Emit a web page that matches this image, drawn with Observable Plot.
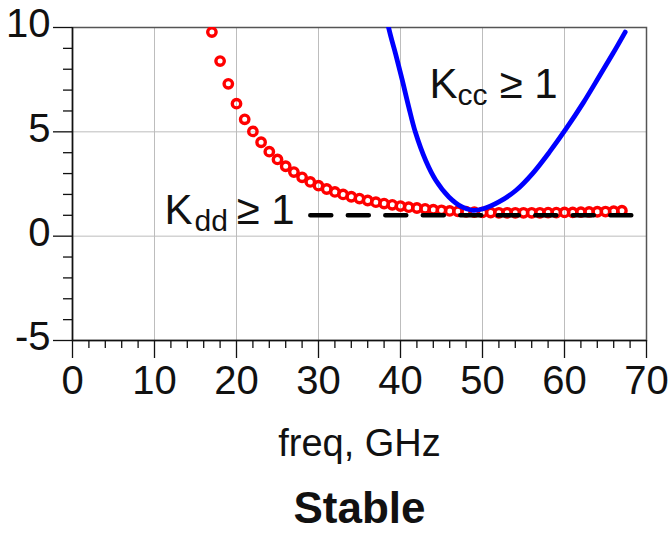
<!DOCTYPE html>
<html>
<head>
<meta charset="utf-8">
<script src="https://cdn.jsdelivr.net/npm/d3@7"></script>
<script src="https://cdn.jsdelivr.net/npm/@observablehq/plot@0.6"></script>
<style>
  html, body { margin: 0; padding: 0; background: #fff; }
  #chart svg { display: block; }
</style>
</head>
<body>
<div id="chart"></div>
<script>
// Kdd (red circles), frequency in GHz
const kddFreq = [17, 18, 19, 20, 21, 22, 23, 24, 25, 26, 27, 28, 29, 30, 31, 32, 33, 34, 35, 36,
  37, 38, 39, 40, 41, 42, 43, 44, 45, 46, 47, 48, 49, 50, 51, 52, 53, 54, 55, 56,
  57, 58, 59, 60, 61, 62, 63, 64, 65, 66, 67];
const kddValue = [9.78, 8.39, 7.30, 6.35, 5.60, 5.02, 4.50, 4.05, 3.68, 3.35, 3.07, 2.82, 2.60, 2.42, 2.26, 2.12, 2.00, 1.89, 1.80, 1.71,
  1.63, 1.56, 1.50, 1.44, 1.39, 1.35, 1.31, 1.27, 1.24, 1.21, 1.19, 1.17, 1.15, 1.14, 1.13, 1.12, 1.12, 1.12, 1.12, 1.12,
  1.12, 1.13, 1.13, 1.14, 1.14, 1.15, 1.16, 1.17, 1.18, 1.20, 1.22];

// Kcc (blue line)
const kccFreq = [38.3, 38.8, 39.4, 40.2, 41.0, 41.8, 43.1, 44.3, 45.9, 47.5, 48.8, 50.0, 52.0, 54.1, 56.1, 58.2, 60.2, 62.3, 64.3, 65.9, 67.4];
const kccValue = [10.4, 9.6, 8.74, 7.5, 6.2, 5.0, 3.6, 2.68, 1.88, 1.40, 1.24, 1.30, 1.64, 2.2, 3.0, 4.05, 5.15, 6.4, 7.7, 8.75, 9.78];

// K = 1 limit (black dashed)
const limitFreq = [29, 68.3];
const limitValue = [1, 1];

// Axes
const xTicks = [0, 10, 20, 30, 40, 50, 60, 70];
const xMinorTicks = [2, 4, 6, 8, 12, 14, 16, 18, 22, 24, 26, 28, 32, 34, 36, 38, 42, 44, 46, 48, 52, 54, 56, 58, 62, 64, 66, 68];
const yTicks = [-5, 0, 5, 10];
const yMinorTicks = [-4, -3, -2, -1, 1, 2, 3, 4, 6, 7, 8, 9];
const xLabel = "freq, GHz";
const caption = "Stable";

// Annotations (text parts, anchored in data coordinates)
const annoMainText = ["K", "≥ 1", "K", "≥ 1"];
const annoMainX = [11.22, 20.0, 43.54, 52.07];
const annoMainY = [0.56, 0.56, 6.61, 6.61];
const annoSubText = ["dd", "cc"];
const annoSubX = [14.88, 46.95];
const annoSubY = [0.226, 6.27];

const kdd = kddFreq.map((f, i) => ({f, v: kddValue[i]}));
const kcc = kccFreq.map((f, i) => ({f, v: kccValue[i]}));
const limit = limitFreq.map((f, i) => ({f, v: limitValue[i]}));
const annoMain = annoMainText.map((t, i) => ({t, x: annoMainX[i], y: annoMainY[i]}));
const annoSub = annoSubText.map((t, i) => ({t, x: annoSubX[i], y: annoSubY[i]}));

const font = "'Liberation Sans', Arial, Helvetica, sans-serif";
const ink = "#111";

const chart = Plot.plot({
  width: 671,
  height: 533,
  marginTop: 27,
  marginBottom: 193,
  marginLeft: 72,
  marginRight: 25,
  style: {fontFamily: font, background: "#fff", overflow: "visible"},
  x: {domain: [0, 70], axis: null},
  y: {domain: [-5, 10], axis: null},
  marks: [
    Plot.gridX({ticks: xTicks.slice(1, -1), stroke: "#bdbdbd", strokeOpacity: 1, strokeWidth: 1}),
    Plot.gridY({ticks: yTicks.slice(1, -1), stroke: "#bdbdbd", strokeOpacity: 1, strokeWidth: 1}),
    Plot.frame({stroke: "#555", strokeWidth: 1.5}),
    Plot.ruleX([0], {stroke: ink, strokeWidth: 1.5}),
    Plot.ruleY([-5], {stroke: ink, strokeWidth: 1.5}),
    // y ticks
    Plot.axisY({ticks: yTicks, tickSize: 19, fill: "none", stroke: ink, strokeWidth: 1.3}),
    Plot.axisY({ticks: yMinorTicks, tickSize: 9, fill: "none", stroke: ink, strokeWidth: 1.3}),
    Plot.axisY({ticks: yTicks, tickSize: 19, tickPadding: 3, stroke: "none", fill: ink, fontSize: 40, dy: -3, tickFormat: d => String(d)}),
    // x ticks
    Plot.axisX({ticks: xTicks, tickSize: 18, fill: "none", stroke: ink, strokeWidth: 1.3}),
    Plot.axisX({ticks: xMinorTicks, tickSize: 8, fill: "none", stroke: ink, strokeWidth: 1.3}),
    Plot.axisX({ticks: xTicks, tickSize: 18, tickPadding: 6.6, stroke: "none", fill: ink, fontSize: 40, tickFormat: d => String(d)}),
    // data
    Plot.dot(kdd, {x: "f", y: "v", r: 4.2, stroke: "#ff0000", strokeWidth: 3.4, fill: "none", clip: true}),
    Plot.line(kcc, {x: "f", y: "v", stroke: "#0000ff", strokeWidth: 4.8, curve: "catmull-rom", clip: true}),
    Plot.line(limit, {x: "f", y: "v", stroke: "#000", strokeWidth: 4.5, strokeDasharray: "21,16.5"}),
    // annotations
    Plot.text(annoMain, {x: "x", y: "y", text: "t", textAnchor: "start", lineAnchor: "bottom", fontSize: 42, fill: ink}),
    Plot.text(annoSub, {x: "x", y: "y", text: "t", textAnchor: "start", lineAnchor: "bottom", fontSize: 30, fill: ink}),
    // axis title and caption
    Plot.text([xLabel], {text: d => d, frameAnchor: "bottom", dy: 115, lineAnchor: "bottom", fontSize: 38, fill: ink}),
    Plot.text([caption], {text: d => d, frameAnchor: "bottom", dy: 182, lineAnchor: "bottom", fontSize: 44, fontWeight: "bold", fill: ink})
  ]
});
document.getElementById("chart").appendChild(chart);
</script>
</body>
</html>
